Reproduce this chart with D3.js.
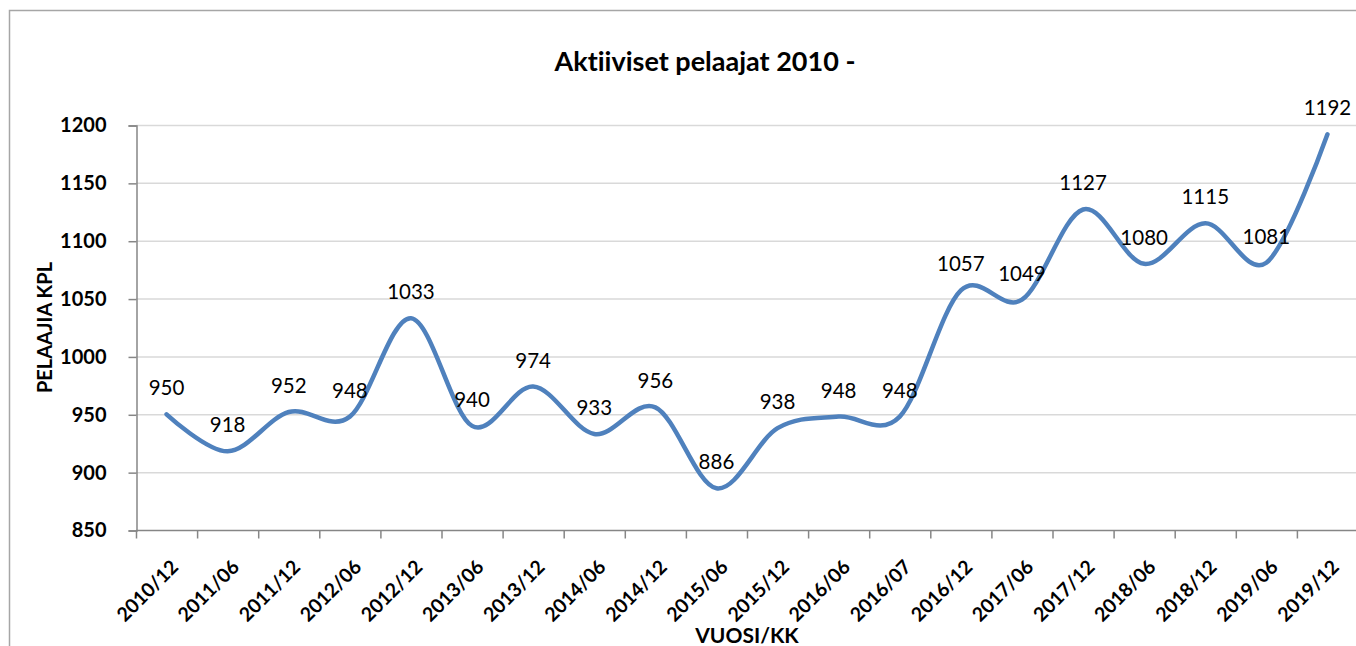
<!DOCTYPE html>
<html>
<head>
<meta charset="utf-8">
<script src="https://cdn.jsdelivr.net/npm/d3@7"></script>
<style>
  body { margin: 0; background: #fff; }
  svg { display: block; font-family: Lato, "Open Sans", sans-serif; font-variant-ligatures: none; }
</style>
</head>
<body>
<svg id="chart" width="1356" height="646"></svg>
<script>
// data
let months = ["2010/12", "2011/06", "2011/12", "2012/06", "2012/12", "2013/06", "2013/12",
  "2014/06", "2014/12", "2015/06", "2015/12", "2016/06", "2016/07", "2016/12",
  "2017/06", "2017/12", "2018/06", "2018/12", "2019/06", "2019/12"];
let players = [950, 918, 952, 948, 1033, 940, 974, 933, 956, 886, 938, 948, 948, 1057,
  1049, 1127, 1080, 1115, 1081, 1192];
let yTicks = [850, 900, 950, 1000, 1050, 1100, 1150, 1200];

const svg = d3.select("svg#chart");

// chart border
svg.append("rect")
  .attr("x", 9.5).attr("y", 10.5)
  .attr("width", 1400).attr("height", 700)
  .attr("fill", "none")
  .attr("stroke", "#a6a6a6")
  .attr("stroke-width", 1.5);

const plotLeft = 136, plotRight = 1358, plotTop = 125, plotBottom = 530;

const x = d3.scaleBand().domain(months).range([plotLeft, plotRight]);
const y = d3.scaleLinear().domain([850, 1200]).range([plotBottom, plotTop]);
const cx = d => x(d) + x.bandwidth() / 2;

// gridlines
svg.append("g")
  .selectAll("line")
  .data(yTicks.slice(1))
  .join("line")
  .attr("x1", plotLeft).attr("x2", plotRight)
  .attr("y1", d => y(d) + 0.5).attr("y2", d => y(d) + 0.5)
  .attr("stroke", "#d9d9d9")
  .attr("stroke-width", 1.5);

// y axis
const yAxis = svg.append("g")
  .attr("transform", "translate(" + (plotLeft + 0.5) + ",0.5)")
  .call(d3.axisLeft(y).tickValues(yTicks).tickFormat(d3.format("d")).tickSize(8).tickPadding(22));
yAxis.selectAll("path, line").attr("stroke", "#868686").attr("stroke-width", 1.5);
yAxis.selectAll("text")
  .attr("font-family", "Lato, sans-serif")
  .attr("font-size", 20)
  .attr("font-weight", "bold")
  .attr("fill", "#000");

// x axis: ticks between categories, labels at centres
const xAxis = svg.append("g")
  .attr("transform", "translate(0," + (plotBottom + 0.5) + ")");
xAxis.append("line")
  .attr("x1", plotLeft).attr("x2", plotRight)
  .attr("stroke", "#868686").attr("stroke-width", 1.5);
xAxis.selectAll("line.tick")
  .data(months.concat(["end"]))
  .join("line")
  .attr("class", "tick")
  .attr("x1", d => d === "end" ? plotRight : x(d) + 0.5)
  .attr("x2", d => d === "end" ? plotRight : x(d) + 0.5)
  .attr("y1", 0).attr("y2", 8)
  .attr("stroke", "#868686").attr("stroke-width", 1.5);
xAxis.selectAll("text")
  .data(months)
  .join("text")
  .attr("transform", d => "translate(" + (cx(d) + 8) + ",33) rotate(-45)")
  .attr("text-anchor", "end")
  .attr("dy", "0.35em")
  .attr("font-size", 19.5)
  .attr("font-weight", "bold")
  .text(d => d);

// smoothed line
const line = d3.line()
  .x((d, i) => cx(months[i]))
  .y(d => y(d))
  .curve(d3.curveCardinal.tension(0));

svg.append("path")
  .datum(players)
  .attr("d", line)
  .attr("fill", "none")
  .attr("stroke", "#4f81bd")
  .attr("stroke-width", 4.5)
  .attr("stroke-linecap", "round");

// data labels above the points
svg.append("g")
  .selectAll("text")
  .data(players)
  .join("text")
  .attr("x", (d, i) => cx(months[i]))
  .attr("y", d => y(d) - 19)
  .attr("text-anchor", "middle")
  .attr("font-size", 20.5)
  .attr("fill", "#000")
  .text(d => d);

// titles
svg.append("text")
  .attr("x", 705).attr("y", 71)
  .attr("text-anchor", "middle")
  .attr("font-size", 27)
  .attr("font-weight", "bold")
  .text("Aktiiviset pelaajat 2010 -");

svg.append("text")
  .attr("transform", "translate(52," + ((plotTop + plotBottom) / 2) + ") rotate(-90)")
  .attr("text-anchor", "middle")
  .attr("font-size", 20)
  .attr("font-weight", "bold")
  .text("PELAAJIA KPL");

svg.append("text")
  .attr("x", 747).attr("y", 643)
  .attr("text-anchor", "middle")
  .attr("font-size", 21)
  .attr("font-weight", "bold")
  .text("VUOSI/KK");
</script>
</body>
</html>
